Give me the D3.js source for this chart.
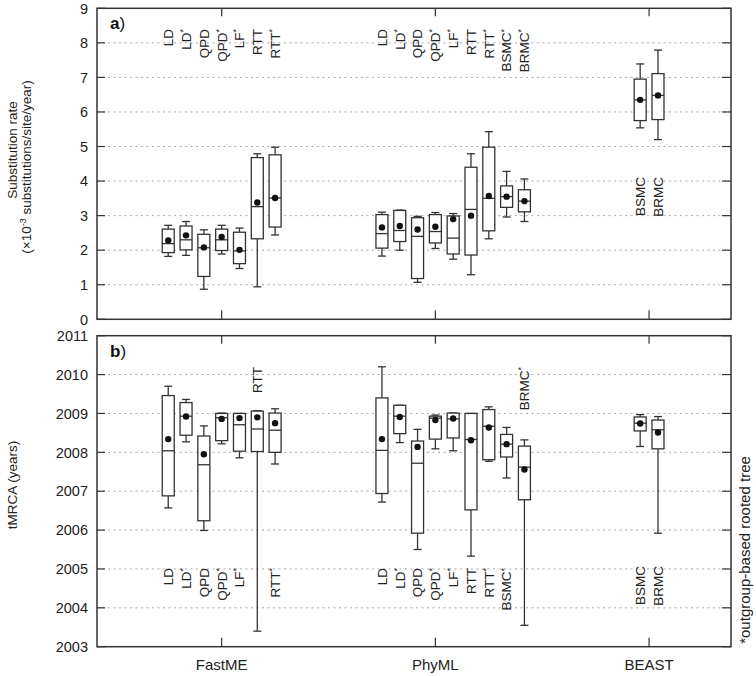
<!DOCTYPE html>
<html><head><meta charset="utf-8">
<script src="https://cdn.jsdelivr.net/npm/d3@7"></script>
<style>
html,body{margin:0;padding:0;background:#fff;}
svg{display:block;font-family:"Liberation Sans",Arial,sans-serif;}
</style></head>
<body>
<svg id="chart" width="756" height="676"></svg>
<script>
// ---------------- DATA ----------------
const groups = ["FastME", "PhyML", "BEAST"];
const methods = ["LD","LD*","QPD","QPD*","LF*","RTT","RTT*",
                 "LD","LD*","QPD","QPD*","LF*","RTT","RTT*","BSMC*","BRMC*",
                 "BSMC","BRMC"];
const methodGroup = [0,0,0,0,0,0,0, 1,1,1,1,1,1,1,1,1, 2,2];

// Panel a: substitution rate (x10^-3)
const rateLow  = [1.82,1.85,0.87,1.89,1.47,0.94,2.44, 1.83,2.00,1.07,2.05,1.74,1.29,2.33,2.96,2.83, 5.54,5.20];
const rateQ1   = [1.93,2.01,1.24,1.99,1.61,2.33,2.67, 2.06,2.25,1.18,2.21,1.89,1.86,2.56,3.24,3.11, 5.75,5.78];
const rateMed  = [2.19,2.30,2.07,2.30,1.98,3.26,3.51, 2.48,2.57,2.40,2.54,2.35,3.18,3.50,3.55,3.42, 6.35,6.48];
const rateQ3   = [2.61,2.70,2.46,2.61,2.52,4.68,4.76, 3.03,3.15,2.94,3.03,2.99,4.40,4.98,3.86,3.75, 6.95,7.11];
const rateHigh = [2.72,2.83,2.59,2.72,2.64,4.79,4.98, 3.10,3.16,2.98,3.09,3.06,4.79,5.43,4.28,4.06, 7.39,7.79];
const rateMean = [2.28,2.43,2.08,2.38,2.01,3.38,3.51, 2.66,2.70,2.60,2.68,2.90,3.00,3.57,3.55,3.42, 6.35,6.48];

// Panel b: tMRCA (years)
const tLow  = [2006.57,2008.27,2005.99,2008.22,2007.86,2003.40,2007.70, 2006.72,2008.25,2005.50,2008.09,2008.04,2005.33,2007.77,2007.34,2003.55, 2008.15,2005.92];
const tQ1   = [2006.88,2008.44,2006.24,2008.30,2008.03,2008.02,2008.00, 2006.94,2008.48,2005.92,2008.34,2008.37,2006.52,2007.81,2007.88,2006.78, 2008.55,2008.09];
const tMed  = [2008.04,2008.93,2007.68,2008.89,2008.71,2008.60,2008.57, 2008.05,2008.93,2007.72,2008.88,2008.86,2008.33,2008.67,2008.21,2007.62, 2008.75,2008.58];
const tQ3   = [2009.46,2009.28,2008.42,2009.00,2009.00,2009.06,2009.01, 2009.40,2009.21,2008.29,2008.93,2009.01,2009.00,2009.10,2008.46,2008.16, 2008.91,2008.83];
const tHigh = [2009.70,2009.36,2008.68,2009.01,2009.00,2009.07,2009.12, 2010.20,2009.21,2008.59,2008.96,2009.01,2009.00,2009.17,2008.64,2008.32, 2008.97,2008.92];
const tMean = [2008.34,2008.92,2007.95,2008.86,2008.88,2008.90,2008.75, 2008.34,2008.91,2008.14,2008.83,2008.87,2008.31,2008.64,2008.21,2007.56, 2008.74,2008.51];

const rateTicks = [0,1,2,3,4,5,6,7,8,9];
const yearTicks = [2003,2004,2005,2006,2007,2008,2009,2010,2011];

// ---------------- LAYOUT ----------------
const svg = d3.select("#chart");
const L = 97, R = 731;
const ink = "#333";

// slot positions: each group has a centre slot, methods spaced one slot apart
const groupCentre = [12, 24, 36];
const groupAnchor = [3, 3, 0.5];
const slot = [];
{
  const counter = [0,0,0];
  methods.forEach((m,i)=>{
    const g = methodGroup[i];
    slot.push(groupCentre[g] + (counter[g] - groupAnchor[g]));
    counter[g]++;
  });
}
const x = d3.scaleLinear().domain([5, 40.6]).range([L, R]);

// label placement per panel (top / mid / bottom)
const rateLabelPos = methods.map((m,i)=> methodGroup[i]===2 ? "mid" : "top");
const tLabelPos = methods.map((m,i)=>{
  if (methodGroup[i]===0 && m==="RTT") return "top";
  if (methodGroup[i]===1 && m==="BRMC*") return "top";
  if (methodGroup[i]===2) return "beast";
  return "bottom";
});

const panels = [
  {y: d3.scaleLinear().domain([0,9]).range([319.3, 8.3]), ticks: rateTicks,
   low: rateLow, q1: rateQ1, med: rateMed, q3: rateQ3, high: rateHigh, mean: rateMean,
   labelPos: rateLabelPos, labelY: {top: 29, mid: 177}, tag: "a"},
  {y: d3.scaleLinear().domain([2003,2011]).range([646.7, 335.7]), ticks: yearTicks,
   low: tLow, q1: tQ1, med: tMed, q3: tQ3, high: tHigh, mean: tMean,
   labelPos: tLabelPos, labelY: {top: 367, bottom: 568, beast: 566}, tag: "b"}
];

panels.forEach(p=>{
  const y = p.y;
  const [y0, y1] = y.range(); // bottom, top
  const g = svg.append("g");

  // grid
  g.selectAll(".grid").data(p.ticks.slice(1,-1)).join("line")
    .attr("x1", L).attr("x2", R)
    .attr("y1", d=>y(d)).attr("y2", d=>y(d))
    .attr("stroke", "#a8a8a8").attr("stroke-width", 1)
    .attr("stroke-dasharray", "2,3.5");

  // left/right inward ticks
  g.selectAll(".tl").data(p.ticks).join("line")
    .attr("x1", L).attr("x2", L+8).attr("y1", d=>y(d)).attr("y2", d=>y(d))
    .attr("stroke", ink).attr("stroke-width", 1.2);
  g.selectAll(".tr").data(p.ticks).join("line")
    .attr("x1", R-9).attr("x2", R).attr("y1", d=>y(d)).attr("y2", d=>y(d))
    .attr("stroke", ink).attr("stroke-width", 1.2);

  // tick labels
  g.selectAll(".tlab").data(p.ticks).join("text")
    .attr("x", 88).attr("y", d=>y(d)).attr("dy", "0.36em")
    .attr("text-anchor", "end").attr("font-size", 14.5).attr("fill", "#222")
    .text(d=>d);

  // group ticks top & bottom
  groups.forEach((gr, gi)=>{
    const gx = x(groupCentre[gi]);
    g.append("line").attr("x1", gx).attr("x2", gx).attr("y1", y1).attr("y2", y1+8)
      .attr("stroke", ink).attr("stroke-width", 1.2);
    g.append("line").attr("x1", gx).attr("x2", gx).attr("y1", y0).attr("y2", y0-9)
      .attr("stroke", ink).attr("stroke-width", 1.2);
  });

  // boxes
  const bw = 12, cw = 8;
  methods.forEach((m,i)=>{
    const cx = x(slot[i]);
    const bg = g.append("g").attr("stroke", ink).attr("stroke-width", 1.3).attr("fill", "none");
    // whiskers
    bg.append("line").attr("x1", cx).attr("x2", cx).attr("y1", y(p.high[i])).attr("y2", y(p.q3[i]));
    bg.append("line").attr("x1", cx).attr("x2", cx).attr("y1", y(p.q1[i])).attr("y2", y(p.low[i]));
    bg.append("line").attr("x1", cx-cw/2).attr("x2", cx+cw/2).attr("y1", y(p.high[i])).attr("y2", y(p.high[i]));
    bg.append("line").attr("x1", cx-cw/2).attr("x2", cx+cw/2).attr("y1", y(p.low[i])).attr("y2", y(p.low[i]));
    // box
    bg.append("rect").attr("x", cx-bw/2).attr("width", bw)
      .attr("y", y(p.q3[i])).attr("height", y(p.q1[i]) - y(p.q3[i]))
      .attr("fill", "#fff");
    bg.append("line").attr("x1", cx-bw/2).attr("x2", cx+bw/2).attr("y1", y(p.med[i])).attr("y2", y(p.med[i]));
    g.append("circle").attr("cx", cx).attr("cy", y(p.mean[i])).attr("r", 3.2).attr("fill", "#111");

    // label
    const ly = p.labelY[p.labelPos[i]];
    const t = g.append("text")
      .attr("transform", `translate(${cx},${ly}) rotate(-90)`)
      .attr("text-anchor", "end").attr("dy", "0.36em")
      .attr("font-size", 13.5).attr("fill", "#222");
    const base = m.replace("*", "");
    t.append("tspan").text(base);
    if (m.endsWith("*")) {
      t.append("tspan").attr("font-size", 9).attr("dy", "-0.55em").text("*");
    }
  });

  // frame
  g.append("rect").attr("x", L).attr("y", y1).attr("width", R-L).attr("height", y0-y1)
    .attr("fill", "none").attr("stroke", ink).attr("stroke-width", 1.5);

  // panel tag
  const tg = g.append("text").attr("x", 110).attr("y", y1 + 21).attr("font-size", 17).attr("fill", "#111");
  tg.append("tspan").attr("font-weight", "bold").text(p.tag);
  tg.append("tspan").text(")");
});

// group labels
svg.selectAll(".glab").data(groups).join("text")
  .attr("x", (d,i)=>x(groupCentre[i])).attr("y", 670)
  .attr("text-anchor", "middle").attr("font-size", 15).attr("fill", "#222")
  .text(d=>d);

// y axis titles
svg.append("text").attr("transform", "translate(16.5,150) rotate(-90)")
  .attr("text-anchor", "middle").attr("font-size", 13.5).attr("fill", "#222")
  .text("Substitution rate");
const t2 = svg.append("text").attr("transform", "translate(31,167) rotate(-90)")
  .attr("text-anchor", "middle").attr("font-size", 13.5).attr("fill", "#222");
t2.append("tspan").text("(\u00d710");
t2.append("tspan").attr("font-size", 9).attr("dy", "-0.6em").text("-3");
t2.append("tspan").attr("dy", "0.4em").text(" substitutions/site/year)");

svg.append("text").attr("transform", "translate(16.5,485) rotate(-90)")
  .attr("text-anchor", "middle").attr("font-size", 13.5).attr("fill", "#222")
  .text("tMRCA (years)");

svg.append("text").attr("transform", "translate(750,550) rotate(-90)")
  .attr("text-anchor", "middle").attr("font-size", 15).attr("fill", "#222")
  .text("*outgroup-based rooted tree");
</script>
</body></html>
